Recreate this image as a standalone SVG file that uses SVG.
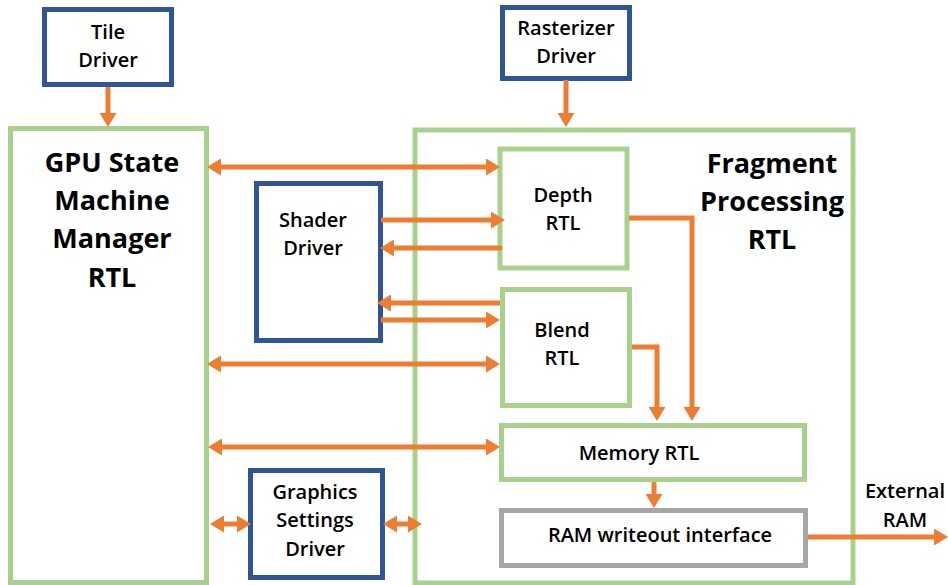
<svg xmlns="http://www.w3.org/2000/svg" width="948" height="585" viewBox="0 0 948 585">
<style>
.drv{fill:#fff;stroke:#2F5597;stroke-width:5}
.rtl{fill:#fff;stroke:#A9D18E;stroke-width:5}
.ram{fill:#fff;stroke:#A6A6A6;stroke-width:5}
text{font-family:"Open Sans",Lato,"Liberation Sans",sans-serif;font-weight:600;fill:#000;text-anchor:middle}
.s{font-size:20px}
.b{font-size:27px;font-weight:bold}
.c line,.c path{stroke:#ED7D31;stroke-width:5;fill:none}
</style>
<defs>
<marker id="ah" markerUnits="userSpaceOnUse" markerWidth="14" markerHeight="17" refX="4" refY="8.5" orient="auto-start-reverse" viewBox="0 0 14 17">
<path d="M0,0 L14,8.5 L0,17 z" fill="#ED7D31"/>
</marker>
</defs>
<rect width="948" height="585" fill="#fff"/>
<g id="gpu"><rect class="rtl" x="10.5" y="128.5" width="196" height="454"/>
<text class="b" x="112" y="172">GPU State</text><text class="b" x="112" y="210">Machine</text><text class="b" x="112" y="248">Manager</text><text class="b" x="112" y="287">RTL</text></g>
<g id="fragment"><rect class="rtl" x="415" y="130" width="438" height="453"/>
<text class="b" x="772" y="173">Fragment</text><text class="b" x="772" y="211">Processing</text><text class="b" x="772" y="249">RTL</text></g>
<g id="tile"><rect class="drv" x="44.5" y="9.5" width="127" height="75"/>
<text class="s" x="108" y="39">Tile</text><text class="s" x="108" y="67">Driver</text></g>
<g id="rasterizer"><rect class="drv" x="502.5" y="7.5" width="127" height="71"/>
<text class="s" x="566" y="35">Rasterizer</text><text class="s" x="566" y="63">Driver</text></g>
<g id="shader"><rect class="drv" x="256.5" y="183.5" width="124" height="157"/>
<text class="s" x="313" y="227">Shader</text><text class="s" x="313" y="255">Driver</text></g>
<g id="depth"><rect class="rtl" x="500" y="149" width="127" height="119"/>
<text class="s" x="563" y="202">Depth</text><text class="s" x="563" y="230">RTL</text></g>
<g id="blend"><rect class="rtl" x="502.5" y="289.5" width="127" height="116"/>
<text class="s" x="562" y="337">Blend</text><text class="s" x="562" y="365">RTL</text></g>
<g id="memory"><rect class="rtl" x="501.5" y="425.5" width="303" height="54"/>
<text class="s" x="639" y="460">Memory RTL</text></g>
<g id="ramwriteout"><rect class="ram" x="501.5" y="510.5" width="304" height="55"/>
<text class="s" x="660" y="542">RAM writeout interface</text></g>
<g id="graphics"><rect class="drv" x="250.5" y="470.5" width="132" height="107"/>
<text class="s" x="315" y="499">Graphics</text><text class="s" x="315" y="527">Settings</text><text class="s" x="315" y="556">Driver</text></g>
<g id="external"><text class="s" x="905" y="498">External</text><text class="s" x="905" y="527">RAM</text></g>
<g id="connectors" class="c">
<line x1="108" y1="87" x2="108" y2="117" marker-end="url(#ah)"/>
<line x1="566" y1="80" x2="566" y2="117" marker-end="url(#ah)"/>
<line x1="217" y1="167" x2="490" y2="167" marker-start="url(#ah)" marker-end="url(#ah)"/>
<line x1="381" y1="220" x2="495" y2="220" marker-end="url(#ah)"/>
<line x1="502" y1="248" x2="390" y2="248" marker-end="url(#ah)"/>
<line x1="500" y1="303" x2="387" y2="303" marker-end="url(#ah)"/>
<line x1="381" y1="320" x2="490" y2="320" marker-end="url(#ah)"/>
<line x1="217" y1="364" x2="490" y2="364" marker-start="url(#ah)" marker-end="url(#ah)"/>
<line x1="218" y1="447" x2="490" y2="447" marker-start="url(#ah)" marker-end="url(#ah)"/>
<line x1="220" y1="524" x2="241" y2="524" marker-start="url(#ah)" marker-end="url(#ah)"/>
<line x1="393" y1="524" x2="412" y2="524" marker-start="url(#ah)" marker-end="url(#ah)"/>
<path d="M629,218 H692 V411" marker-end="url(#ah)"/>
<path d="M632,347 H657 V411" marker-end="url(#ah)"/>
<line x1="654" y1="482" x2="654" y2="498" marker-end="url(#ah)"/>
<line x1="808" y1="537" x2="938" y2="537" marker-end="url(#ah)"/>
</g>
</svg>
